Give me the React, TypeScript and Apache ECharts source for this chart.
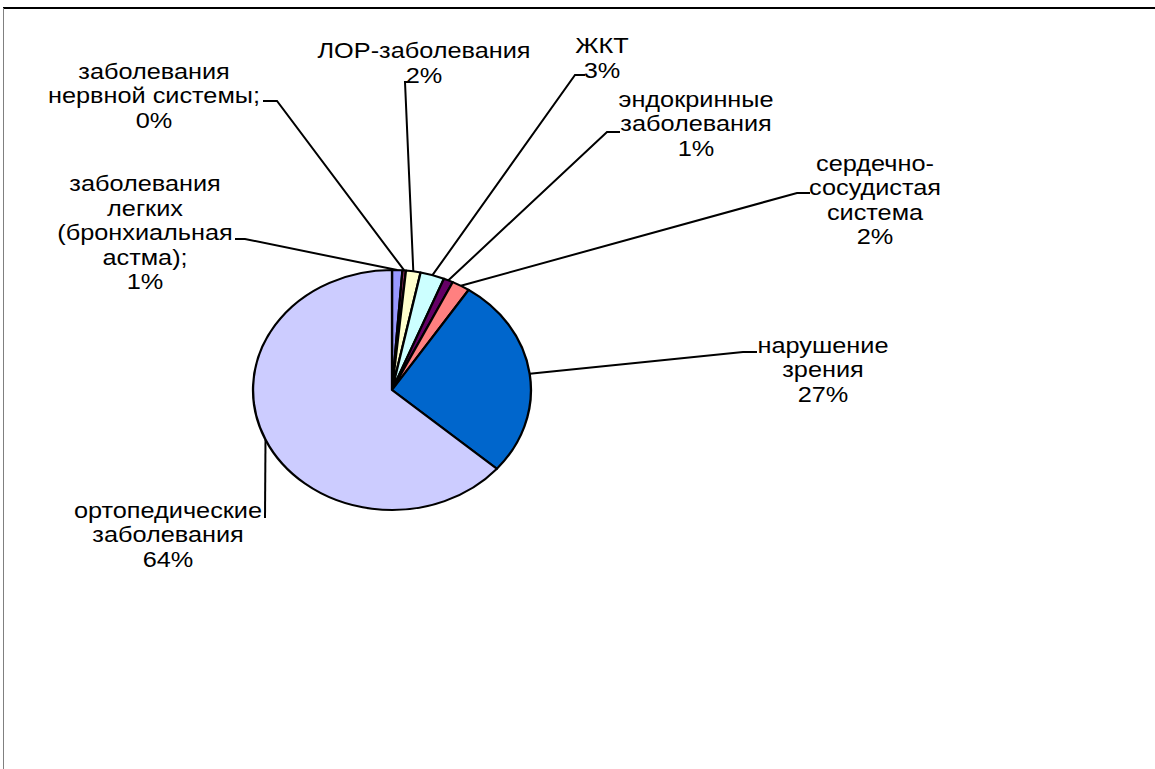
import React, { useEffect, useRef } from "react";
import * as echarts from "echarts";

// ---- data ----
const categories: string[] = [
  "заболевания\nлегких\n(бронхиальная\nастма);",
  "заболевания\nнервной системы;",
  "ЛОР-заболевания",
  "ЖКТ",
  "эндокринные\nзаболевания",
  "сердечно-\nсосудистая\nсистема",
  "нарушение\nзрения",
  "ортопедические\nзаболевания",
];
const values: number[] = [1.2, 0.4, 1.7, 2.8, 1.1, 2.1, 27.1, 63.6];
const colors: string[] = [
  "#9999FF",
  "#993366",
  "#FFFFCC",
  "#CCFFFF",
  "#660066",
  "#FF8080",
  "#0066CC",
  "#CCCCFF",
];

// ---- layout (label block centres, leader elbow and end points) ----
const labelCenter: [number, number][] = [
  [145, 233],
  [154, 96],
  [424, 63],
  [602, 58],
  [696, 124],
  [875, 200],
  [823, 370],
  [168, 535],
];
const leaderElbow: [number, number][] = [
  [245, 239],
  [277, 101],
  [405, 82],
  [575, 75],
  [607, 132],
  [797, 193],
  [743, 352],
  [265, 518],
];
const leaderEnd: [number, number][] = [
  [235, 239],
  [263, 101],
  [410, 82],
  [585, 75],
  [620, 132],
  [810, 193],
  [757, 352],
  [265, 518],
];

const CX = 392;
const CY = 390;
const RX = 139;
const RY = 120;
const TEXT_SCALE_X = 1.15;

export default function App() {
  const ref = useRef<HTMLDivElement>(null);

  useEffect(() => {
    if (!ref.current) return;
    const chart = echarts.init(ref.current, undefined, { renderer: "svg" });
    const total = values.reduce((a, b) => a + b, 0);
    const cum: number[] = [];
    let acc = 0;
    values.forEach((v) => {
      cum.push(acc);
      acc += v;
    });

    const option: any = {
      animation: false,
      backgroundColor: "#ffffff",
      graphic: [
        {
          type: "line",
          shape: { x1: 3, y1: 8, x2: 1155, y2: 8 },
          style: { stroke: "#000", lineWidth: 2 },
          silent: true,
        },
        {
          type: "line",
          shape: { x1: 3.5, y1: 8, x2: 3.5, y2: 769 },
          style: { stroke: "#808080", lineWidth: 1 },
          silent: true,
        },
      ],
      series: [
        {
          type: "custom",
          coordinateSystem: "none",
          silent: true,
          data: values,
          renderItem: (params: any, api: any) => {
            const i = params.dataIndex;
            const v = api.value(0);
            const a0 = -Math.PI / 2 + (2 * Math.PI * cum[i]) / total;
            const a1 = -Math.PI / 2 + (2 * Math.PI * (cum[i] + v)) / total;
            const am = (a0 + a1) / 2;
            const rimX = CX + RX * Math.cos(am);
            const rimY = CY + RY * Math.sin(am);
            const pct = Math.round((v / total) * 100) + "%";
            return {
              type: "group",
              children: [
                {
                  type: "group",
                  x: CX,
                  y: CY,
                  scaleX: RX / RY,
                  children: [
                    {
                      type: "sector",
                      shape: {
                        cx: 0,
                        cy: 0,
                        r0: 0,
                        r: RY,
                        startAngle: a0,
                        endAngle: a1,
                        clockwise: true,
                      },
                      style: {
                        fill: colors[i],
                        stroke: "#000",
                        lineWidth: 2,
                        strokeNoScale: true,
                        lineJoin: "round",
                      },
                    },
                  ],
                },
                {
                  type: "polyline",
                  shape: {
                    points: [
                      [rimX, rimY],
                      leaderElbow[i],
                      leaderEnd[i],
                    ],
                  },
                  style: { stroke: "#000", lineWidth: 2, fill: null },
                  z2: 10,
                },
                {
                  type: "text",
                  x: labelCenter[i][0],
                  y: labelCenter[i][1],
                  scaleX: TEXT_SCALE_X,
                  z2: 11,
                  style: {
                    text: categories[i] + "\n" + pct,
                    fill: "#000",
                    fontSize: 22,
                    fontFamily: '"Liberation Sans", Arial, sans-serif',
                    align: "center",
                    verticalAlign: "middle",
                    lineHeight: 24.5,
                  },
                },
              ],
            };
          },
        },
      ],
    };
    chart.setOption(option);
    return () => chart.dispose();
  }, []);

  return (
    <div
      ref={ref}
      style={{ position: "absolute", left: 0, top: 0, width: 1155, height: 769 }}
    />
  );
}
